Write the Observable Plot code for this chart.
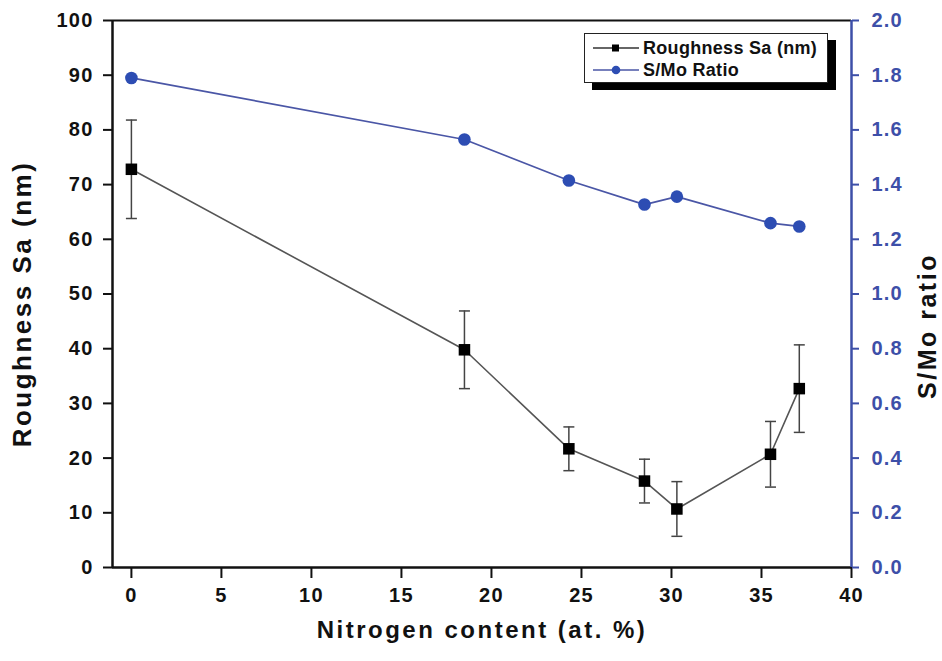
<!DOCTYPE html>
<html><head><meta charset="utf-8">
<script src="https://cdn.jsdelivr.net/npm/d3@7"></script>
<script src="https://cdn.jsdelivr.net/npm/@observablehq/plot@0.6"></script>
<style>
body{margin:0;background:#fff;}
#wrap{position:relative;width:942px;height:661px;font-family:"Liberation Sans",Arial,sans-serif;}
#wrap svg text{letter-spacing:1.2px;}
#legend{position:absolute;left:584px;top:33px;width:244px;height:50px;border:1.5px solid #222;background:#fff;box-shadow:8px 7px 0 #000;box-sizing:border-box;}
#legend .row{position:absolute;left:0;height:22px;display:flex;align-items:center;font-weight:bold;font-size:18px;color:#111;letter-spacing:0.3px;white-space:nowrap;}
#legend svg{margin-left:8px;margin-right:4px;}
</style></head>
<body>
<div id="wrap"></div>
<script>
// ---- data ----
const nitrogen = [0, 18.5, 24.3, 28.5, 30.3, 35.5, 37.1];
const roughness = [72.8, 39.8, 21.7, 15.8, 10.7, 20.7, 32.7];
const roughnessErr = [9, 7.1, 4, 4, 5, 6, 8];
const smoNitrogen = [0, 18.5, 24.3, 28.5, 30.3, 35.5, 37.1];
const smoRatio = [1.79, 1.565, 1.415, 1.327, 1.356, 1.259, 1.247];
const xTicks = [0, 5, 10, 15, 20, 25, 30, 35, 40];
const leftTicks = [0, 10, 20, 30, 40, 50, 60, 70, 80, 90, 100];
const rightTicks = [0.0, 0.2, 0.4, 0.6, 0.8, 1.0, 1.2, 1.4, 1.6, 1.8, 2.0];
const xDomain = [-1.05, 40];
const yDomain = [0, 100];
const RATIO = 50; // right axis (0–2.0) mapped onto left axis (0–100)

const xTitle = "Nitrogen content (at. %)";
const yTitle = "Roughness Sa (nm)";
const y2Title = "S/Mo ratio";
const legendLabels = ["Roughness Sa (nm)", "S/Mo Ratio"];

const BLUE_AXIS = "#3d4fa8";
const BLUE_LINE = "#4a56a6";
const BLUE_DOT = "#2d4db3";

const rough = nitrogen.map((x, i) => ({x, y: roughness[i], err: roughnessErr[i]}));
const smo = smoNitrogen.map((x, i) => ({x, y: smoRatio[i] * RATIO}));

const cap = {draw(ctx) { ctx.moveTo(-5.5, 0); ctx.lineTo(5.5, 0); }};

const chart = Plot.plot({
  width: 942, height: 661,
  marginLeft: 112, marginRight: 91, marginTop: 20, marginBottom: 94,
  style: {fontFamily: '"Liberation Sans", Arial, sans-serif', fontWeight: "bold", background: "#fff", color: "#111"},
  x: {domain: xDomain},
  y: {domain: yDomain},
  marks: [
    Plot.axisX({ticks: xTicks, tickSize: 11, tickPadding: 9, fontSize: 20, strokeWidth: 2, label: null, color: "#111"}),
    Plot.axisY({anchor: "left", ticks: leftTicks, tickSize: 9, tickPadding: 10, fontSize: 20, strokeWidth: 2, label: null, color: "#111"}),
    Plot.axisY({anchor: "right", ticks: rightTicks.map(v => v * RATIO), tickFormat: d => (d / RATIO).toFixed(1), tickSize: 7, tickPadding: 13, fontSize: 20, strokeWidth: 2, label: null, color: BLUE_AXIS}),
    Plot.ruleX([xDomain[0]], {stroke: "#111", strokeWidth: 2.5}),
    Plot.ruleY([yDomain[0]], {stroke: "#111", strokeWidth: 2.5}),
    Plot.ruleY([yDomain[1]], {stroke: "#111", strokeWidth: 2}),
    Plot.ruleX([xDomain[1]], {stroke: BLUE_AXIS, strokeWidth: 2.5}),
    // S/Mo series
    Plot.line(smo, {x: "x", y: "y", stroke: BLUE_LINE, strokeWidth: 1.7}),
    Plot.dot(smo, {x: "x", y: "y", r: 6.3, fill: BLUE_DOT}),
    // roughness series
    Plot.line(rough, {x: "x", y: "y", stroke: "#555", strokeWidth: 1.6}),
    Plot.ruleX(rough, {x: "x", y1: d => d.y - d.err, y2: d => d.y + d.err, stroke: "#444", strokeWidth: 1.5}),
    Plot.dot(rough, {x: "x", y: d => d.y + d.err, symbol: cap, stroke: "#444", strokeWidth: 1.5}),
    Plot.dot(rough, {x: "x", y: d => d.y - d.err, symbol: cap, stroke: "#444", strokeWidth: 1.5}),
    Plot.dot(rough, {x: "x", y: "y", symbol: "square", r: 6.5, fill: "#000"}),
    // titles
    Plot.text([xTitle], {text: d => d, frameAnchor: "bottom", textAnchor: "middle", dy: 70, fontSize: 24, fontWeight: "bold", fill: "#111"}),
    Plot.text([yTitle], {text: d => d, frameAnchor: "left", textAnchor: "middle", dx: -90, dy: 10, rotate: -90, fontSize: 26, fontWeight: "bold", fill: "#111"}),
    Plot.text([y2Title], {text: d => d, frameAnchor: "right", textAnchor: "middle", dx: 76, dy: 32, rotate: -90, fontSize: 25, fontWeight: "bold", fill: "#111"})
  ]
});

d3.select(chart).selectAll("text")
  .filter(function() { return [xTitle, yTitle, y2Title].includes(this.textContent); })
  .style("letter-spacing", "2.5px");

const wrap = document.getElementById("wrap");
wrap.appendChild(chart);

// legend
const legend = document.createElement("div");
legend.id = "legend";
legend.innerHTML = `
  <div class="row" style="top:3px">
    <svg width="46" height="14"><line x1="0" y1="7" x2="46" y2="7" stroke="#333" stroke-width="1.5"/><rect x="19" y="3.5" width="7" height="7" fill="#000"/></svg>${legendLabels[0]}
  </div>
  <div class="row" style="top:25px">
    <svg width="46" height="14"><line x1="0" y1="7" x2="46" y2="7" stroke="${BLUE_LINE}" stroke-width="1.5"/><circle cx="23" cy="7" r="4.3" fill="${BLUE_DOT}"/></svg>${legendLabels[1]}
  </div>`;
wrap.appendChild(legend);
</script>
</body></html>
